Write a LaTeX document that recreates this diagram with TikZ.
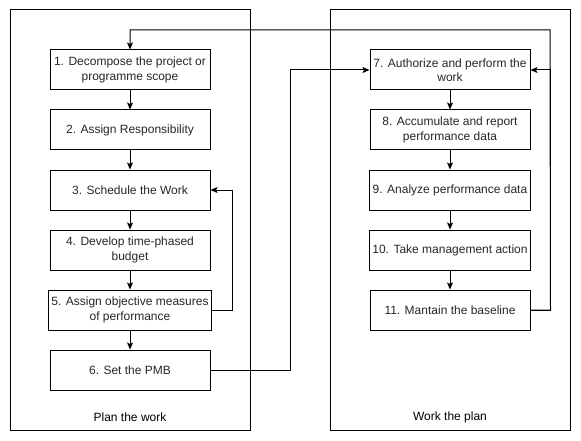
\documentclass[tikz,border=0pt]{standalone}
\usepackage{fontspec}
\setmainfont{Liberation Sans}
\usetikzlibrary{arrows.meta}

\begin{document}
\begin{tikzpicture}[x=1pt,y=-1pt,line width=1pt,
		step box/.style={draw,minimum width=160pt,minimum height=40pt,align=center,
			font=\fontsize{12}{14.5}\selectfont,text=black!85},
		group box/.style={draw,minimum width=240pt,minimum height=420pt},
		group title/.style={font=\fontsize{12}{14}\selectfont},
		arr/.style={-{Stealth[length=7pt,width=6pt,inset=1.5pt]}}]
		\useasboundingbox (0,0) rectangle (581,441);
		% the two phases
		\node[group box] (plan) at (130,220) {};
		\node[group box] (work) at (450,220) {};
		\node[group title] (plantitle) at (130,417) {Plan the work};
		\node[group title] (worktitle) at (450,417) {Work the plan};
		% plan the work
		\node[step box] (s1) at (130,70) {1. Decompose the project or\\programme scope};
		\node[step box] (s2) at (130,130) {2. Assign Responsibility};
		\node[step box] (s3) at (130,190) {3. Schedule the Work};
		\node[step box] (s4) at (130,250) {4. Develop time-phased\\budget};
		\node[step box] (s5) at (130,310) {5. Assign objective measures\\of performance};
		\node[step box] (s6) at (130,370) {6. Set the PMB};
		% work the plan
		\node[step box] (s7) at (450,70) {7. Authorize and perform the\\work};
		\node[step box] (s8) at (450,130) {8. Accumulate and report\\performance data};
		\node[step box] (s9) at (450,190) {9. Analyze performance data};
		\node[step box] (s10) at (450,250) {10. Take management action};
		\node[step box] (s11) at (450,310) {11. Mantain the baseline};
		\coordinate (loop) at (550,30);
		\draw[arr] (s1) -- (s2);
		\draw[arr] (s2) -- (s3);
		\draw[arr] (s3) -- (s4);
		\draw[arr] (s4) -- (s5);
		\draw[arr] (s5) -- (s6);
		\draw[arr] (s5.east) -- ++(20,0) |- (s3.east);
		\draw[arr] (s6.east) -- ++(80,0) |- (s7.west);
		\draw[arr] (s7) -- (s8);
		\draw[arr] (s8) -- (s9);
		\draw[arr] (s9) -- (s10);
		\draw[arr] (s10) -- (s11);
		\draw[arr] (s11.east) -- ++(20,0) |- (s7.east);
		\draw[arr] (s11.east) -- ++(20,0) -- (loop) -| (s1.north);
	\end{tikzpicture}
\end{document}
